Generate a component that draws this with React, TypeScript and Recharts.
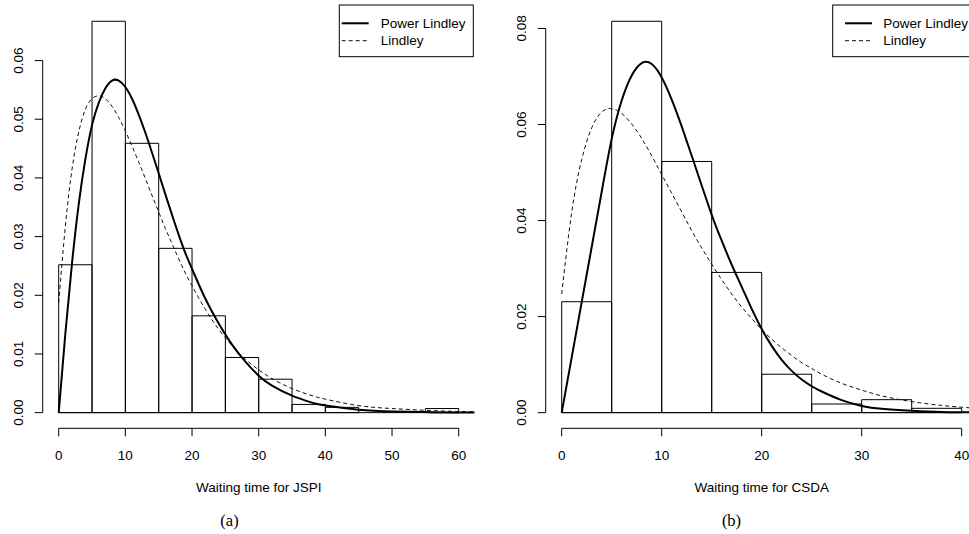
import React from 'react';
import { ComposedChart, XAxis, YAxis, Line, ReferenceArea, ReferenceLine } from 'recharts';

// (a) JSPI waiting times: histogram density, bins of width 5
const jspiBinStarts = [0, 5, 10, 15, 20, 25, 30, 35, 40, 45, 50, 55];
const jspiDensity = [0.0252, 0.0667, 0.0459, 0.028, 0.0165, 0.0094, 0.0057, 0.0014, 0.0009, 0, 0, 0.0007];

// fitted densities
const jspiX = [0, 1, 2, 3, 4, 5, 6, 7, 8, 9, 10, 11, 12, 13, 14, 15, 16, 17, 18, 19, 20, 22, 24, 26, 28, 30, 32, 35, 38, 40, 45, 50, 55, 60, 62.4];
const jspiPowerLindley = [0, 0.0135, 0.0255, 0.0355, 0.0432, 0.049, 0.0528, 0.0553, 0.0566, 0.0566, 0.0555, 0.0535, 0.0508, 0.0477, 0.0443, 0.0408, 0.0372, 0.0337, 0.0303, 0.0272, 0.0245, 0.0194, 0.0152, 0.0116, 0.0087, 0.0063, 0.0046, 0.0029, 0.0017, 0.0012, 0.0005, 0.0002, 0.0001, 0.00003, 0.00002];
const jspiLindley = [0.0187, 0.0318, 0.0415, 0.0478, 0.0517, 0.0535, 0.054, 0.0535, 0.0522, 0.0503, 0.048, 0.0454, 0.0427, 0.0399, 0.037, 0.0342, 0.0314, 0.0288, 0.0262, 0.0238, 0.0216, 0.0176, 0.0142, 0.0114, 0.0091, 0.0073, 0.0058, 0.0041, 0.0029, 0.0023, 0.0012, 0.0007, 0.0004, 0.0002, 0.00015];

// (b) CSDA waiting times
const csdaBinStarts = [0, 5, 10, 15, 20, 25, 30, 35];
const csdaDensity = [0.0231, 0.0815, 0.0523, 0.0292, 0.008, 0.0018, 0.0027, 0.0009];

const csdaX = [0, 1, 2, 3, 4, 5, 6, 7, 8, 9, 10, 11, 12, 13, 14, 15, 16, 17, 18, 19, 20, 21, 22, 23, 24, 25, 26, 28, 30, 32, 35, 38, 40, 41.6];
const csdaPowerLindley = [0, 0.0115, 0.023, 0.0345, 0.046, 0.057, 0.065, 0.0702, 0.0728, 0.0726, 0.0698, 0.0652, 0.0596, 0.0535, 0.0473, 0.0412, 0.0358, 0.0308, 0.0262, 0.0216, 0.0174, 0.0139, 0.011, 0.0087, 0.0069, 0.0055, 0.0044, 0.0026, 0.0014, 0.0008, 0.0004, 0.00015, 0.0001, 0.00005];
const csdaLindley = [0.0247, 0.0417, 0.0527, 0.0593, 0.0626, 0.0633, 0.0623, 0.0601, 0.0571, 0.0535, 0.0496, 0.0457, 0.0418, 0.0379, 0.0343, 0.0309, 0.0277, 0.0247, 0.022, 0.0196, 0.0173, 0.0153, 0.0135, 0.0119, 0.0104, 0.0092, 0.008, 0.0061, 0.0047, 0.0035, 0.0023, 0.0015, 0.00113, 0.0009];

const jspiXTicks = [0, 10, 20, 30, 40, 50, 60];
const jspiYTicks = [0, 0.01, 0.02, 0.03, 0.04, 0.05, 0.06];
const csdaXTicks = [0, 10, 20, 30, 40];
const csdaYTicks = [0, 0.02, 0.04, 0.06, 0.08];

const SANS = '"Liberation Sans", Arial, Helvetica, sans-serif';
const SERIF = '"Liberation Serif", "Times New Roman", serif';
const FS = 13.5;
const BIN = 5;

interface PanelProps {
  width: number;
  yAxisWidth: number;
  marginRight: number;
  binStarts: number[];
  density: number[];
  xs: number[];
  powerLindley: number[];
  lindley: number[];
  xTicks: number[];
  yTicks: number[];
}

const Panel: React.FC<PanelProps> = ({ width, yAxisWidth, marginRight, binStarts, density, xs, powerLindley, lindley, xTicks, yTicks }) => {
  // R-style axis limits: range of breaks / densities plus 4% on each side
  const xLo = binStarts[0];
  const xHi = binStarts[binStarts.length - 1] + BIN;
  const xPad = (xHi - xLo) * 0.04;
  const yMax = Math.max(...density);
  const yPad = yMax * 0.04;
  const xDomain: [number, number] = [xLo - xPad, xHi + xPad];
  const yDomain: [number, number] = [-yPad, yMax + yPad];

  const pl = xs.map((x, i) => ({ x, y: powerLindley[i] }));
  const li = xs.map((x, i) => ({ x, y: lindley[i] }));

  return (
    <ComposedChart width={width} height={534} margin={{ top: 5.6, right: marginRight, bottom: 75.7, left: 0 }}>
      <XAxis
        type="number"
        dataKey="x"
        domain={xDomain}
        ticks={xTicks}
        allowDataOverflow
        axisLine={false}
        tickSize={8}
        tickMargin={0}
        height={30}
        tickLine={{ stroke: '#000' }}
        interval={0}
        tick={(p: any) => (
          <text x={p.x} y={p.y + 23.2} textAnchor="middle" fontSize={FS} fontFamily={SANS} fill="#000">
            {p.payload.value}
          </text>
        )}
      />
      <YAxis
        type="number"
        domain={yDomain}
        ticks={yTicks}
        allowDataOverflow
        axisLine={false}
        width={yAxisWidth}
        tickSize={8}
        tickMargin={12}
        tickLine={{ stroke: '#000' }}
        interval={0}
        tick={(p: any) => (
          <text x={p.x} y={p.y} transform={`rotate(-90 ${p.x} ${p.y})`} textAnchor="middle" fontSize={FS} fontFamily={SANS} fill="#000">
            {p.payload.value.toFixed(2)}
          </text>
        )}
      />
      {binStarts.map((b, i) =>
        density[i] > 0 ? (
          <ReferenceArea key={b} x1={b} x2={b + BIN} y1={0} y2={density[i]} fill="none" stroke="#000" strokeWidth={1} ifOverflow="visible" />
        ) : null
      )}
      <ReferenceLine segment={[{ x: xLo, y: 0 }, { x: xHi, y: 0 }]} stroke="#000" strokeWidth={1} ifOverflow="visible" />
      <ReferenceLine segment={[{ x: xTicks[0], y: yDomain[0] }, { x: xTicks[xTicks.length - 1], y: yDomain[0] }]} stroke="#000" strokeWidth={1} ifOverflow="visible" />
      <ReferenceLine segment={[{ x: xDomain[0], y: yTicks[0] }, { x: xDomain[0], y: yTicks[yTicks.length - 1] }]} stroke="#000" strokeWidth={1} ifOverflow="visible" />
      <Line data={li} dataKey="y" type="natural" dot={false} stroke="#111" strokeWidth={1} strokeDasharray="4 3" isAnimationActive={false} />
      <Line data={pl} dataKey="y" type="natural" dot={false} stroke="#000" strokeWidth={2} isAnimationActive={false} />
    </ComposedChart>
  );
};

const LegendBox: React.FC<{ x: number; w: number; lineX: number; textX: number }> = ({ x, w, lineX, textX }) => (
  <g>
    <rect x={x} y={5} width={w} height={51.7} fill="#fff" stroke="#000" strokeWidth={1} />
    <line x1={lineX} x2={lineX + 27} y1={23.3} y2={23.3} stroke="#000" strokeWidth={2} />
    <line x1={lineX} x2={lineX + 27} y1={40.7} y2={40.7} stroke="#111" strokeWidth={1} strokeDasharray="4 3" />
    <text x={textX} y={28} fontSize={FS} fontFamily={SANS}>Power Lindley</text>
    <text x={textX} y={45.2} fontSize={FS} fontFamily={SANS}>Lindley</text>
  </g>
);

export default function App() {
  return (
    <div style={{ position: 'absolute', left: 0, top: 0, width: 969, height: 534, overflow: 'hidden', background: '#fff' }}>
      <div style={{ position: 'absolute', left: 0, top: 0 }}>
        <Panel
          width={490}
          yAxisWidth={42.7}
          marginRight={15.3}
          binStarts={jspiBinStarts}
          density={jspiDensity}
          xs={jspiX}
          powerLindley={jspiPowerLindley}
          lindley={jspiLindley}
          xTicks={jspiXTicks}
          yTicks={jspiYTicks}
        />
      </div>
      <div style={{ position: 'absolute', left: 490, top: 0 }}>
        <Panel
          width={500}
          yAxisWidth={55.7}
          marginRight={12.3}
          binStarts={csdaBinStarts}
          density={csdaDensity}
          xs={csdaX}
          powerLindley={csdaPowerLindley}
          lindley={csdaLindley}
          xTicks={csdaXTicks}
          yTicks={csdaYTicks}
        />
      </div>
      <svg width={969} height={534} style={{ position: 'absolute', left: 0, top: 0, pointerEvents: 'none' }}>
        <LegendBox x={339.3} w={134} lineX={341.7} textX={380.7} />
        <LegendBox x={832.7} w={145} lineX={845} textX={883.3} />
        <text x={258.7} y={492.3} textAnchor="middle" fontSize={FS} fontFamily={SANS}>Waiting time for JSPI</text>
        <text x={761.7} y={492.3} textAnchor="middle" fontSize={FS} fontFamily={SANS}>Waiting time for CSDA</text>
        <text x={229.5} y={526} textAnchor="middle" fontSize={16.5} fontFamily={SERIF}>(a)</text>
        <text x={731.5} y={526} textAnchor="middle" fontSize={16.5} fontFamily={SERIF}>(b)</text>
      </svg>
    </div>
  );
}
